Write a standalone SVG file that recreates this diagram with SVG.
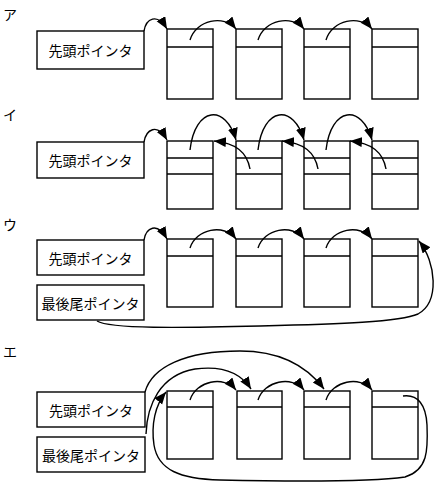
<svg xmlns="http://www.w3.org/2000/svg" width="442" height="495" viewBox="0 0 442 495">
<defs>
<marker id="ah" markerUnits="userSpaceOnUse" markerWidth="13" markerHeight="11" refX="12" refY="5" orient="auto">
<path d="M0,0 L12,5 L0,10 z" fill="#000"/>
</marker>
<style>
.box{fill:#fff;stroke:#000;stroke-width:1.4}
.ln{fill:none;stroke:#000;stroke-width:1.4}
.c{fill:none;stroke:#000;stroke-width:1.4;marker-end:url(#ah)}
.t{font-family:"Noto Sans CJK JP","Noto Sans",sans-serif;font-size:14px;fill:#000;text-anchor:middle;dominant-baseline:central}
.s{font-family:"Noto Sans CJK JP","Noto Sans",sans-serif;font-size:14px;fill:#000}
</style>
</defs>
<rect width="442" height="495" fill="#fff"/>

<!-- Section labels -->
<text class="s" x="3" y="20">ア</text>
<text class="s" x="3" y="120">イ</text>
<text class="s" x="3" y="230">ウ</text>
<text class="s" x="3" y="357">エ</text>

<!-- ア -->
<g id="a-head"><rect class="box" x="37" y="31" width="107" height="38"/><text class="t" x="90.5" y="50">先頭ポインタ</text></g>
<g id="a-n1"><rect class="box" x="167" y="29" width="46" height="70"/><line class="ln" x1="167" y1="47" x2="213" y2="47"/></g>
<g id="a-n2"><rect class="box" x="236" y="29" width="46" height="70"/><line class="ln" x1="236" y1="47" x2="282" y2="47"/></g>
<g id="a-n3"><rect class="box" x="304" y="29" width="46" height="70"/><line class="ln" x1="304" y1="47" x2="350" y2="47"/></g>
<g id="a-n4"><rect class="box" x="372" y="29" width="46" height="70"/><line class="ln" x1="372" y1="47" x2="418" y2="47"/></g>

<!-- イ -->
<g id="i-head"><rect class="box" x="37" y="142" width="107" height="36"/><text class="t" x="90.5" y="160">先頭ポインタ</text></g>
<g id="i-n1"><rect class="box" x="167" y="141" width="46" height="68"/><line class="ln" x1="167" y1="158" x2="213" y2="158"/><line class="ln" x1="167" y1="174" x2="213" y2="174"/></g>
<g id="i-n2"><rect class="box" x="236" y="141" width="46" height="68"/><line class="ln" x1="236" y1="158" x2="282" y2="158"/><line class="ln" x1="236" y1="174" x2="282" y2="174"/></g>
<g id="i-n3"><rect class="box" x="304" y="141" width="46" height="68"/><line class="ln" x1="304" y1="158" x2="350" y2="158"/><line class="ln" x1="304" y1="174" x2="350" y2="174"/></g>
<g id="i-n4"><rect class="box" x="372" y="141" width="46" height="68"/><line class="ln" x1="372" y1="158" x2="418" y2="158"/><line class="ln" x1="372" y1="174" x2="418" y2="174"/></g>

<!-- ウ -->
<g id="u-head"><rect class="box" x="37" y="240" width="107" height="35"/><text class="t" x="90.5" y="257.5">先頭ポインタ</text></g>
<g id="u-tail"><rect class="box" x="37" y="285" width="107" height="35"/><text class="t" x="90.5" y="302.5">最後尾ポインタ</text></g>
<g id="u-n1"><rect class="box" x="167" y="239" width="46" height="68"/><line class="ln" x1="167" y1="256" x2="213" y2="256"/></g>
<g id="u-n2"><rect class="box" x="236" y="239" width="46" height="68"/><line class="ln" x1="236" y1="256" x2="282" y2="256"/></g>
<g id="u-n3"><rect class="box" x="304" y="239" width="46" height="68"/><line class="ln" x1="304" y1="256" x2="350" y2="256"/></g>
<g id="u-n4"><rect class="box" x="372" y="239" width="46" height="68"/><line class="ln" x1="372" y1="256" x2="418" y2="256"/></g>

<!-- エ -->
<g id="e-head"><rect class="box" x="37" y="392" width="108" height="35"/><text class="t" x="91" y="409.5">先頭ポインタ</text></g>
<g id="e-tail"><rect class="box" x="37" y="437" width="108" height="35"/><text class="t" x="91" y="454.5">最後尾ポインタ</text></g>
<g id="e-n1"><rect class="box" x="167" y="391" width="46" height="68"/><line class="ln" x1="167" y1="407" x2="213" y2="407"/></g>
<g id="e-n2"><rect class="box" x="237" y="391" width="45" height="68"/><line class="ln" x1="237" y1="407" x2="282" y2="407"/></g>
<g id="e-n3"><rect class="box" x="304" y="391" width="46" height="68"/><line class="ln" x1="304" y1="407" x2="350" y2="407"/></g>
<g id="e-n4"><rect class="box" x="372" y="391" width="46" height="68"/><line class="ln" x1="372" y1="407" x2="418" y2="407"/></g>

<g id="connectors">
<!-- ア -->
<path class="c" d="M144,31 C146,19 157,12 167,29"/>
<path class="c" d="M190,40 C196,20 224,14 236,29"/>
<path class="c" d="M258,40 C264,20 292,14 304,29"/>
<path class="c" d="M326,40 C332,20 360,14 372,29"/>
<!-- イ -->
<path class="c" d="M144,142 C146,130 157,122 167,140"/>
<path class="c" d="M190,150 C195,106 226,104 236,140"/>
<path class="c" d="M258,150 C263,106 294,104 304,140"/>
<path class="c" d="M326,150 C331,106 362,104 372,140"/>
<path class="c" d="M250,169 C247,152 236,143 214,141"/>
<path class="c" d="M318,169 C315,152 304,143 282,141"/>
<path class="c" d="M386,169 C383,152 372,143 350,141"/>
<!-- ウ -->
<path class="c" d="M144,240 C146,228 157,221 167,239"/>
<path class="c" d="M190,248 C196,229 224,223 236,239"/>
<path class="c" d="M258,248 C264,229 292,223 304,239"/>
<path class="c" d="M326,248 C332,229 360,223 372,239"/>
<path class="c" d="M97,321 C110,329 180,328 260,326 C340,324 400,322 418,314 C440,302 436,262 419,241"/>
<!-- エ -->
<path class="c" d="M190,400 C196,381 224,375 236,390"/>
<path class="c" d="M258,400 C264,381 292,375 304,390"/>
<path class="c" d="M326,400 C332,381 360,375 372,390"/>
<path class="c" d="M145,392 C152,367 185,351 240,351 C280,351 306,365 324,389"/>
<path class="c" d="M146,434 C147,405 160,375 195,369 C225,365 242,375 251,389"/>
<path class="c" d="M403,396 C418,394 426,405 427,425 C428,450 428,470 405,477 C370,482 270,481 220,480 C180,479 158,470 154,445 C151,425 155,405 166,392"/>
</g>
</svg>
